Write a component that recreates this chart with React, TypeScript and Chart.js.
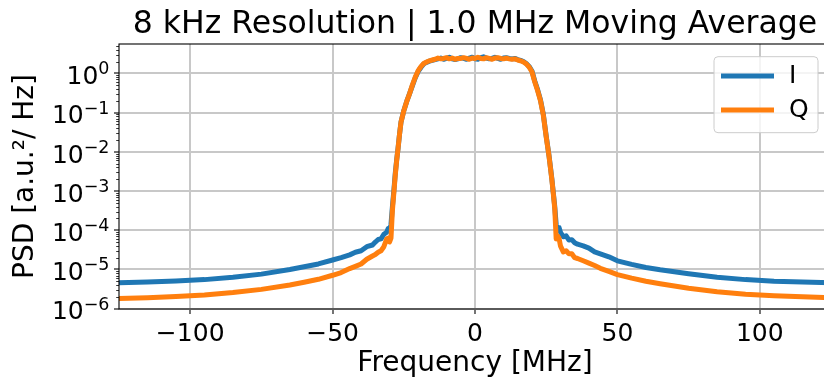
import React, { useEffect, useRef } from 'react';
import { Chart, registerables } from 'chart.js';

Chart.register(...registerables);

const FONT = "'DejaVu Sans', sans-serif";

const titleText = '8 kHz Resolution | 1.0 MHz Moving Average';
const xLabel = 'Frequency [MHz]';
const yLabel = 'PSD [a.u.\u00B2/ Hz]';
const seriesLabels = ['I', 'Q'];
const seriesColors = ['#1f77b4', '#ff7f0e'];
const xTicks = [-100, -50, 0, 50, 100];
const yExponents = [-6, -5, -4, -3, -2, -1, 0];

const freq = [
  -125, -115, -105, -95, -85, -75, -65, -60, -55, -50,
  -47, -44, -42, -40, -38, -36, -35, -34, -33, -32, -31,
  -30.5, -30, -29.5, -29, -28.5, -28, -27.5, -27, -26.5, -26,
  -25, -24, -23, -22, -21, -20, -19, -18, -17, -16, -15, -14, -13, -12, -11, -10, -9, -8, -7, -6,
  -5, -4, -3, -2, -1, 0, 1, 2, 3, 4, 5,
  6, 7, 8, 9, 10, 11, 12, 13, 14, 15, 16, 17, 18, 19, 20, 21, 22, 23, 24, 25,
  26, 26.5, 27, 27.5, 28, 28.5, 29, 29.5, 30,
  31, 32, 33, 34, 35, 36, 38, 40, 42, 44, 47, 50,
  55, 60, 65, 75, 85, 95, 105, 115, 125,
];

const psdI = [
  4.6e-6, 4.8e-6, 5.1e-6, 5.5e-6, 6.3e-6, 7.6e-6, 1.0e-5, 1.17e-5, 1.38e-5, 1.74e-5,
  2.0e-5, 2.35e-5, 2.75e-5, 3.0e-5, 3.8e-5, 4.2e-5, 5.0e-5, 5.8e-5, 6.0e-5, 7.9e-5, 8.9e-5,
  1.1e-4, 1.0e-4, 1.4e-4, 4.0e-4, 1.0e-3, 2.8e-3, 6.3e-3, 1.26e-2, 2.8e-2, 5.6e-2,
  0.112, 0.19, 0.30, 0.48, 0.76, 1.10, 1.41, 1.74, 1.91, 2.04, 2.14, 2.24, 2.34, 2.45, 2.29, 2.40, 2.57, 2.34, 2.24, 2.34,
  2.51, 2.40, 2.29, 2.45, 2.57, 2.34, 2.29, 2.51, 2.63, 2.45, 2.34,
  2.40, 2.57, 2.40, 2.29, 2.45, 2.51, 2.40, 2.34, 2.40, 2.24, 2.14, 2.00, 1.78, 1.50, 1.15, 0.63, 0.38, 0.21, 0.089, 0.025,
  7.9e-3, 4.0e-3, 2.0e-3, 8.9e-4, 4.0e-4, 1.4e-4, 1.0e-4, 1.17e-4, 8.9e-5,
  6.8e-5, 7.2e-5, 5.6e-5, 5.75e-5, 4.8e-5, 4.4e-5, 4.0e-5, 3.5e-5, 2.8e-5, 2.5e-5, 2.1e-5, 1.66e-5,
  1.35e-5, 1.12e-5, 9.8e-6, 7.8e-6, 6.3e-6, 5.5e-6, 5.0e-6, 4.8e-6, 4.6e-6,
];

const psdQ = [
  1.82e-6, 1.9e-6, 2.04e-6, 2.24e-6, 2.57e-6, 3.1e-6, 4.0e-6, 4.7e-6, 5.6e-6, 7.1e-6,
  8.3e-6, 1.05e-5, 1.2e-5, 1.38e-5, 1.82e-5, 2.2e-5, 2.4e-5, 2.75e-5, 3.0e-5, 3.8e-5, 6.0e-5,
  6.3e-5, 5.0e-5, 6.3e-5, 3.2e-4, 8.9e-4, 2.5e-3, 6.0e-3, 1.26e-2, 2.8e-2, 5.6e-2,
  0.112, 0.19, 0.30, 0.50, 0.79, 1.15, 1.48, 1.78, 1.95, 2.09, 2.19, 2.29, 2.45, 2.34, 2.40, 2.51, 2.34, 2.45, 2.29, 2.40,
  2.40, 2.51, 2.40, 2.29, 2.45, 2.40, 2.57, 2.40, 2.34, 2.51, 2.40,
  2.29, 2.45, 2.51, 2.40, 2.34, 2.45, 2.34, 2.29, 2.34, 2.19, 2.09, 1.95, 1.74, 1.45, 1.10, 0.60, 0.36, 0.20, 0.085, 0.024,
  7.6e-3, 3.8e-3, 1.9e-3, 8.5e-4, 3.6e-4, 6.0e-5, 7.1e-5, 6.3e-5, 4.0e-5,
  2.8e-5, 3.0e-5, 2.5e-5, 2.5e-5, 2.0e-5, 1.9e-5, 1.66e-5, 1.45e-5, 1.26e-5, 1.07e-5, 8.9e-6, 7.4e-6,
  6.0e-6, 5.0e-6, 4.3e-6, 3.3e-6, 2.7e-6, 2.34e-6, 2.14e-6, 2.0e-6, 1.9e-6,
];

const fmtMinus = (v: number) => (v < 0 ? '\u2212' + Math.abs(v) : String(v));

const framePlugin = {
  id: 'frameSpines',
  afterDatasetsDraw(chart: any) {
    const { ctx, chartArea: a } = chart;
    ctx.save();
    ctx.strokeStyle = '#000';
    ctx.lineWidth = 1.1;
    ctx.strokeRect(a.left, a.top, a.right - a.left, a.bottom - a.top);
    ctx.restore();
  },
};

const yLabelPlugin = {
  id: 'yMathLabels',
  afterDraw(chart: any) {
    const { ctx, chartArea: a } = chart;
    const y = chart.scales.y;
    ctx.save();
    ctx.strokeStyle = '#000';
    ctx.lineWidth = 0.8;
    for (let e = -7; e <= 1; e++) {
      for (let k = 2; k <= 9; k++) {
        const v = k * Math.pow(10, e);
        if (v < y.min || v > y.max) continue;
        const p = Math.round(y.getPixelForValue(v)) + 0.5;
        ctx.beginPath();
        ctx.moveTo(a.left - 2.8, p);
        ctx.lineTo(a.left, p);
        ctx.stroke();
      }
    }
    ctx.fillStyle = '#000';
    ctx.textBaseline = 'alphabetic';
    ctx.textAlign = 'right';
    const rx = a.left - 9.5;
    for (const e of yExponents) {
      const p = y.getPixelForValue(Math.pow(10, e));
      const exp = fmtMinus(e);
      ctx.font = `17.5px ${FONT}`;
      const ew = ctx.measureText(exp).width;
      ctx.fillText(exp, rx, p + 1);
      ctx.font = `25px ${FONT}`;
      ctx.fillText('10', rx - ew, p + 10.8);
    }
    ctx.restore();
  },
};

const legendPlugin = {
  id: 'innerLegend',
  afterDraw(chart: any) {
    const { ctx, chartArea: a } = chart;
    const right = a.right - 13;
    const top = a.top + 12.7;
    const w = 104;
    const h = 76;
    const left = right - w;
    const r = 4;
    ctx.save();
    ctx.beginPath();
    ctx.moveTo(left + r, top);
    ctx.lineTo(right - r, top);
    ctx.arcTo(right, top, right, top + r, r);
    ctx.lineTo(right, top + h - r);
    ctx.arcTo(right, top + h, right - r, top + h, r);
    ctx.lineTo(left + r, top + h);
    ctx.arcTo(left, top + h, left, top + h - r, r);
    ctx.lineTo(left, top + r);
    ctx.arcTo(left, top, left + r, top, r);
    ctx.closePath();
    ctx.fillStyle = 'rgba(255,255,255,0.8)';
    ctx.fill();
    ctx.strokeStyle = '#cccccc';
    ctx.lineWidth = 1;
    ctx.stroke();
    chart.data.datasets.forEach((ds: any, i: number) => {
      const yy = top + 19.3 + i * 34;
      ctx.beginPath();
      ctx.strokeStyle = ds.borderColor;
      ctx.lineWidth = 5;
      ctx.lineCap = 'butt';
      ctx.moveTo(left + 7, yy);
      ctx.lineTo(left + 60, yy);
      ctx.stroke();
      ctx.fillStyle = '#000';
      ctx.font = `25px ${FONT}`;
      ctx.textAlign = 'left';
      ctx.textBaseline = 'middle';
      ctx.fillText(ds.label, left + 75, yy);
    });
    ctx.restore();
  },
};

export default function App() {
  const ref = useRef<HTMLCanvasElement | null>(null);
  useEffect(() => {
    if (!ref.current) return;
    const makeData = (vals: number[]) => freq.map((f, i) => ({ x: f, y: vals[i] }));
    const gridOpts = { color: '#c8c8c8', lineWidth: 2, tickColor: '#000', tickLength: 5, tickWidth: 1.1 };
    const chart = new Chart(ref.current, {
      type: 'line',
      data: {
        datasets: [
          {
            label: seriesLabels[0],
            data: makeData(psdI),
            borderColor: seriesColors[0],
            backgroundColor: seriesColors[0],
            borderWidth: 5,
            pointRadius: 0,
            borderJoinStyle: 'round',
            tension: 0,
            order: 1,
          },
          {
            label: seriesLabels[1],
            data: makeData(psdQ),
            borderColor: seriesColors[1],
            backgroundColor: seriesColors[1],
            borderWidth: 5,
            pointRadius: 0,
            borderJoinStyle: 'round',
            tension: 0,
            order: 0,
          },
        ],
      },
      options: {
        responsive: false,
        animation: false,
        devicePixelRatio: 1,
        layout: { padding: { left: 0, right: 9, top: 0, bottom: 0 } },
        plugins: {
          legend: { display: false },
          tooltip: { enabled: false },
          title: {
            display: true,
            text: titleText,
            fullSize: false,
            color: '#000',
            font: { family: FONT, size: 31.5, weight: 'normal' },
            padding: { top: 5.5, bottom: 0.7 },
          },
        },
        scales: {
          x: {
            type: 'linear',
            min: -125,
            max: 125,
            afterBuildTicks: (s: any) => {
              s.ticks = xTicks.map((v) => ({ value: v }));
            },
            afterFit: (s: any) => {
              s.height = 76;
            },
            ticks: {
              color: '#000',
              font: { family: FONT, size: 25 },
              padding: 5,
              maxRotation: 0,
              callback: (v: any) => fmtMinus(Number(v)),
            },
            grid: gridOpts,
            border: { display: false },
            title: {
              display: true,
              text: xLabel,
              color: '#000',
              font: { family: FONT, size: 28 },
              padding: { top: 0, bottom: 4.6 },
            },
          },
          y: {
            type: 'logarithmic',
            min: 9.8e-7,
            max: 5.6,
            afterBuildTicks: (s: any) => {
              s.ticks = yExponents.map((e) => ({ value: Math.pow(10, e), major: true }));
            },
            afterFit: (s: any) => {
              s.width = 119;
            },
            ticks: { display: false },
            grid: gridOpts,
            border: { display: false },
            title: {
              display: true,
              text: yLabel,
              color: '#000',
              font: { family: FONT, size: 28 },
              padding: { top: 8.5, bottom: 0 },
            },
          },
        },
      },
      plugins: [framePlugin, yLabelPlugin, legendPlugin],
    } as any);
    return () => chart.destroy();
  }, []);
  return (
    <div
      style={{
        position: 'fixed',
        left: 0,
        top: 0,
        width: 824,
        height: 385,
        overflow: 'hidden',
        background: '#fff',
      }}
    >
      <canvas ref={ref} width={840} height={385} style={{ display: 'block', width: 840, height: 385 }} />
    </div>
  );
}
